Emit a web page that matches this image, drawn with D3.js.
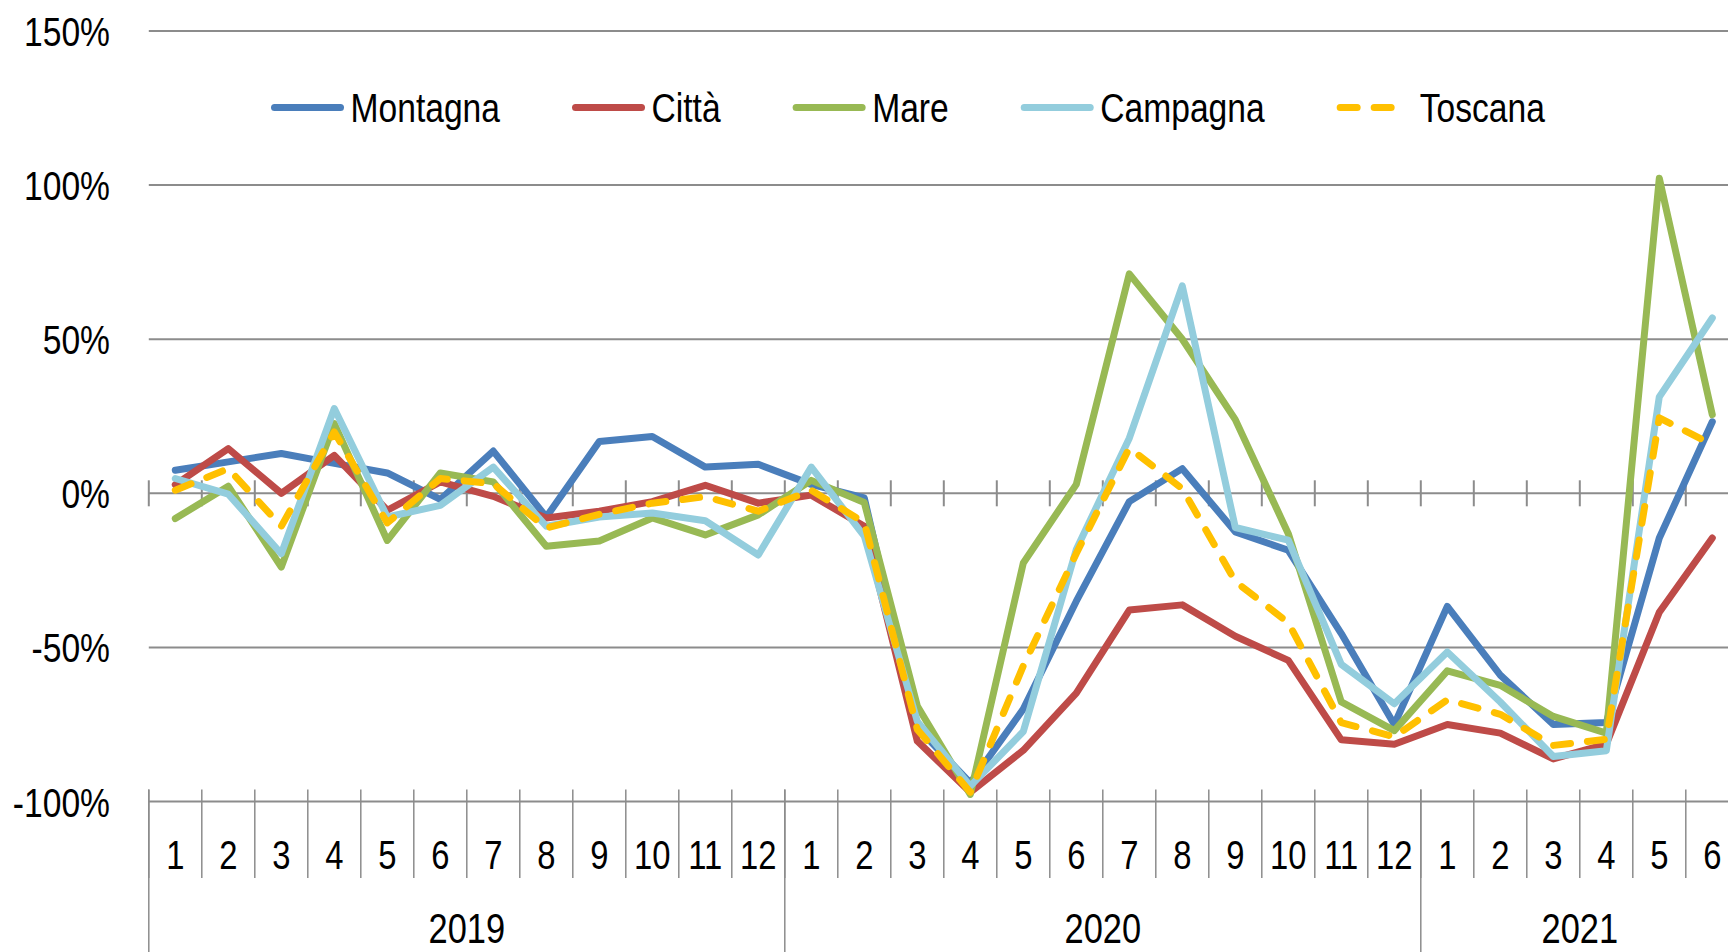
<!DOCTYPE html>
<html><head><meta charset="utf-8">
<script src="https://cdn.jsdelivr.net/npm/d3@7"></script>
<style>html,body{margin:0;padding:0;background:#fff;overflow:hidden}</style>
</head><body>
<svg id="chart" width="1728" height="952"></svg>
<script>
// ---- data ----
const years = ["2019", "2020", "2021"];
const monthsPerYear = [12, 12, 6];
const monthLabels = ["1","2","3","4","5","6","7","8","9","10","11","12",
                     "1","2","3","4","5","6","7","8","9","10","11","12",
                     "1","2","3","4","5","6"];
const yTicks = [-100, -50, 0, 50, 100, 150];
const seriesNames = ["Montagna", "Città", "Mare", "Campagna", "Toscana"];
const montagna = [7.5, 10.2, 12.9, 9.7, 6.6, -2, 13.7, -7.7, 16.8, 18.4, 8.5, 9.4,
                  2.9, -1.5, -76, -94, -70, -35, -2.7, 8, -12.5, -18.5, -45.5, -75,
                  -36.7, -59, -75, -74.4, -14.5, 23.2];
const citta = [2.8, 14.5, 0, 12.3, -5.5, 3.7, -1, -8, -5.8, -2.7, 2.6, -3.2,
               -0.6, -10.7, -80.4, -97, -83.4, -64.8, -37.9, -36.2, -46.4, -54.2, -80, -81.4,
               -75, -77.8, -86.2, -81.4, -38.6, -14.5];
const mare = [-8.2, 2.3, -23.9, 22.6, -15.3, 6.6, 3.7, -17.2, -15.5, -8, -13.5, -7,
              4.2, -3, -69, -97.7, -22.6, 2.9, 71.2, 50, 23.9, -13.1, -67.7, -77,
              -57.6, -62.3, -72.4, -77.8, 102.2, 25.5];
const campagna = [4.8, -0.3, -19.6, 27.5, -7.7, -3.9, 8.5, -10.7, -7.7, -6.4, -8.9, -20,
                  8.5, -13.9, -74, -95, -77.3, -18.2, 17.9, 67.3, -11.1, -15.2, -55.5, -68.3,
                  -51.5, -67.7, -85.4, -83.5, 31.3, 56.9];
const toscana = [1, 8, -10.7, 19.9, -9.6, 4.8, 3.1, -11.3, -6.8, -3.2, -1.1, -5.8,
                 1, -9.5, -76.6, -97, -56, -19.5, 14.7, 1.5, -28.6, -42, -74.4, -79,
                 -67, -71.7, -81.8, -79.8, 24.5, 15.8];
const seriesValues = [montagna, citta, mare, campagna, toscana];
const seriesColors = ["#4A7EBB", "#BE4B48", "#98B954", "#93CDDD", "#FFC000"];
const seriesDashed = [false, false, false, false, true];

// ---- font detection ----
function hasFont(name){
  const c = document.createElement('canvas').getContext('2d');
  const t = '150% Montagna 2019';
  c.font = '40px monospace'; const a = c.measureText(t).width;
  c.font = `40px "${name}", monospace`; const b = c.measureText(t).width;
  return Math.abs(a - b) > 0.5;
}
const narrow = hasFont('Liberation Sans Narrow');
const fam = narrow ? "'Liberation Sans Narrow', 'Arial Narrow', sans-serif" : "'Liberation Sans', Arial, sans-serif";
const sx = narrow ? 1 : 0.82;

const svg = d3.select("#chart");
const FS = 41;
function txt(g, x, y, s, anchor, size){
  return g.append("text")
    .attr("transform", `translate(${x},${y}) scale(${sx},1)`)
    .attr("text-anchor", anchor || "start")
    .attr("font-family", fam)
    .attr("font-size", size || FS)
    .attr("fill", "#000")
    .text(s);
}

// ---- layout ----
const left = 148.8, band = 53.0;
const n = monthLabels.length;
const right = left + n * band;
const x = d3.scaleBand().domain(d3.range(n)).range([left, right]).paddingInner(0).paddingOuter(0);
const y = d3.scaleLinear().domain([-100, 150]).range([801.5, 31]);
const gridColor = "#8c8c8c";

// gridlines
const grid = svg.append("g");
grid.selectAll("line").data(yTicks).join("line")
  .attr("x1", left).attr("x2", 1728)
  .attr("y1", d => y(d)).attr("y2", d => y(d))
  .attr("stroke", gridColor).attr("stroke-width", 2);

// tick marks on zero line (crossing)
const boundaries = d3.range(n + 1).map(i => left + i * band);
grid.selectAll("line.zt").data(boundaries).join("line").attr("class", "zt")
  .attr("x1", d => d).attr("x2", d => d)
  .attr("y1", y(0) - 13).attr("y2", y(0) + 13)
  .attr("stroke", gridColor).attr("stroke-width", 2);

// category separators at bottom
const yearStarts = [];
let acc = 0;
monthsPerYear.forEach(m => { yearStarts.push(acc); acc += m; });
yearStarts.push(acc);
grid.selectAll("line.ms").data(boundaries).join("line").attr("class", "ms")
  .attr("x1", d => d).attr("x2", d => d)
  .attr("y1", y(-100) - 12).attr("y2", 878)
  .attr("stroke", gridColor).attr("stroke-width", 1.5);
grid.selectAll("line.ys").data(yearStarts).join("line").attr("class", "ys")
  .attr("x1", d => left + d * band).attr("x2", d => left + d * band)
  .attr("y1", y(-100) - 12).attr("y2", 952)
  .attr("stroke", gridColor).attr("stroke-width", 1.5);

// y tick labels
const lab = svg.append("g");
yTicks.forEach(v => txt(lab, 110, y(v) + 15, v + "%", "end"));

// month labels
monthLabels.forEach((m, i) => txt(lab, x(i) + x.bandwidth() / 2, 869, m, "middle", 40));
// year labels
years.forEach((yr, k) => {
  const c = left + (yearStarts[k] + monthsPerYear[k] / 2) * band;
  txt(lab, c, 943, yr, "middle", 42);
});

// lines
const line = d3.line().x((d, i) => x(i) + x.bandwidth() / 2).y(d => y(d));
const lg = svg.append("g");
seriesValues.forEach((vals, k) => {
  lg.append("path").datum(vals)
    .attr("d", line)
    .attr("fill", "none")
    .attr("stroke", seriesColors[k])
    .attr("stroke-width", 7)
    .attr("stroke-linejoin", "round")
    .attr("stroke-linecap", "round")
    .attr("stroke-dasharray", seriesDashed[k] ? "17,17" : null);
});

// legend
const leg = svg.append("g");
let lx = 271;
const ly = 107.5;
seriesNames.forEach((name, k) => {
  leg.append("line")
    .attr("x1", lx + 3.5).attr("x2", lx + (seriesDashed[k] ? 62 : 69.5))
    .attr("y1", ly).attr("y2", ly)
    .attr("stroke", seriesColors[k]).attr("stroke-width", 7)
    .attr("stroke-linecap", "round")
    .attr("stroke-dasharray", seriesDashed[k] ? "17,17" : null);
  const off = seriesDashed[k] ? 83 : 79.5;
  const t = txt(leg, lx + off, ly + 14.5, name, "start", 41);
  const w = t.node().getComputedTextLength() * sx;
  lx = lx + off + w + 72;
});
</script>
</body></html>
